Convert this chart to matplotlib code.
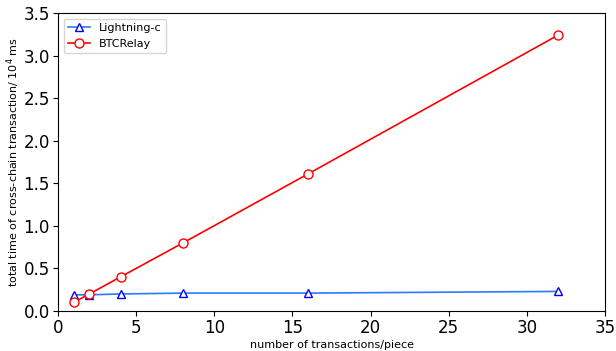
import matplotlib
matplotlib.use("Agg")
import matplotlib.pyplot as plt

x = [1, 2, 4, 8, 16, 32]
lightning = [0.19, 0.19, 0.20, 0.21, 0.21, 0.23]
btcrelay = [0.10, 0.20, 0.40, 0.80, 1.61, 3.24]

fig = plt.figure(figsize=(6.16, 3.51), dpi=100)
ax = fig.add_axes([58/616, 1-311/351, (605-58)/616, (311-13)/351])
ax.plot(x, lightning, color='#2a7bff', lw=1.2, marker='^', mfc='white', mec='blue', ms=6, mew=1.0, label='Lightning-c')
ax.plot(x, btcrelay, color='red', lw=1.2, marker='o', mfc='white', mec='red', ms=6.5, mew=1.0, label='BTCRelay')
ax.set_xlim(0, 35)
ax.set_ylim(0, 3.5)
ax.tick_params(labelsize=12, pad=2.5)
ax.set_xlabel('number of transactions/piece', fontsize=8, labelpad=2)
ax.set_ylabel('total time of cross-chain transaction/ $10^4$ ms', fontsize=8, labelpad=1)
ax.legend(loc='upper left', fontsize=8)
fig.savefig('out.png', dpi=100)
